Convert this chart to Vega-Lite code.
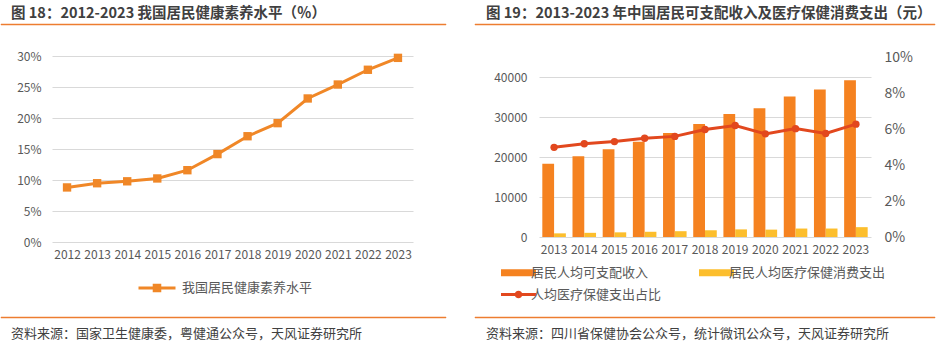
{
  "$schema": "https://vega.github.io/schema/vega-lite/v6.json",
  "padding": {"left": 0, "top": 5, "right": 0, "bottom": 0},
  "background": "white",
  "config": {
    "font": "Noto Sans CJK SC",
    "view": {"stroke": null},
    "axis": {"labelFont": "Noto Sans CJK SC", "labelColor": "#595959", "domain": false, "ticks": false, "gridColor": "#d9d9d9", "gridWidth": 1, "title": null},
    "legend": {"labelFont": "Noto Sans CJK SC"},
    "title": {"font": "Noto Sans CJK SC", "color": "#404040", "anchor": "start"}
  },
  "resolve": {"scale": {"color": "independent"}, "legend": {"color": "independent"}},
  "datasets": {
    "literacy": [
      {"year": "2012", "level": 8.80},
      {"year": "2013", "level": 9.48},
      {"year": "2014", "level": 9.79},
      {"year": "2015", "level": 10.25},
      {"year": "2016", "level": 11.58},
      {"year": "2017", "level": 14.18},
      {"year": "2018", "level": 17.06},
      {"year": "2019", "level": 19.17},
      {"year": "2020", "level": 23.15},
      {"year": "2021", "level": 25.40},
      {"year": "2022", "level": 27.78},
      {"year": "2023", "level": 29.70}
    ],
    "bars": [
      {"year": "2013", "series": "居民人均可支配收入", "value": 18311},
      {"year": "2014", "series": "居民人均可支配收入", "value": 20167},
      {"year": "2015", "series": "居民人均可支配收入", "value": 21966},
      {"year": "2016", "series": "居民人均可支配收入", "value": 23821},
      {"year": "2017", "series": "居民人均可支配收入", "value": 25974},
      {"year": "2018", "series": "居民人均可支配收入", "value": 28228},
      {"year": "2019", "series": "居民人均可支配收入", "value": 30733},
      {"year": "2020", "series": "居民人均可支配收入", "value": 32189},
      {"year": "2021", "series": "居民人均可支配收入", "value": 35128},
      {"year": "2022", "series": "居民人均可支配收入", "value": 36883},
      {"year": "2023", "series": "居民人均可支配收入", "value": 39218},
      {"year": "2013", "series": "居民人均医疗保健消费支出", "value": 912},
      {"year": "2014", "series": "居民人均医疗保健消费支出", "value": 1045},
      {"year": "2015", "series": "居民人均医疗保健消费支出", "value": 1165},
      {"year": "2016", "series": "居民人均医疗保健消费支出", "value": 1307},
      {"year": "2017", "series": "居民人均医疗保健消费支出", "value": 1451},
      {"year": "2018", "series": "居民人均医疗保健消费支出", "value": 1685},
      {"year": "2019", "series": "居民人均医疗保健消费支出", "value": 1902},
      {"year": "2020", "series": "居民人均医疗保健消费支出", "value": 1843},
      {"year": "2021", "series": "居民人均医疗保健消费支出", "value": 2115},
      {"year": "2022", "series": "居民人均医疗保健消费支出", "value": 2120},
      {"year": "2023", "series": "居民人均医疗保健消费支出", "value": 2460}
    ],
    "ratio": [
      {"year": "2013", "ratio": 0.0498},
      {"year": "2014", "ratio": 0.0518},
      {"year": "2015", "ratio": 0.0530},
      {"year": "2016", "ratio": 0.0549},
      {"year": "2017", "ratio": 0.0559},
      {"year": "2018", "ratio": 0.0597},
      {"year": "2019", "ratio": 0.0619},
      {"year": "2020", "ratio": 0.0573},
      {"year": "2021", "ratio": 0.0602},
      {"year": "2022", "ratio": 0.0575},
      {"year": "2023", "ratio": 0.0627}
    ],
    "blank": [{"k": 0}]
  },
  "spacing": 27,
  "hconcat": [
    {
      "spacing": 20,
      "resolve": {"scale": {"color": "independent"}, "legend": {"color": "independent"}},
      "vconcat": [
        {
          "width": 445, "height": 1,
          "data": {"name": "blank"},
          "mark": {"type": "text", "text": ""},
          "encoding": {},
          "view": {"fill": "#ED7D31", "stroke": "#ED7D31", "strokeWidth": 0.5},
          "title": {"text": "图 18：2012-2023 我国居民健康素养水平（％）", "dx": 10, "fontSize": 14.5, "fontWeight": "bold", "offset": -3}
        },
        {
          "spacing": 14,
          "resolve": {"scale": {"color": "independent"}, "legend": {"color": "independent"}},
          "vconcat": [
            {
              "spacing": 0,
              "resolve": {"scale": {"color": "independent"}, "legend": {"color": "independent"}},
              "hconcat": [
                {"width": 15, "height": 1, "data": {"name": "blank"}, "mark": {"type": "text", "text": ""}, "encoding": {}},
                {
                  "width": 361, "height": 186,
                  "data": {"name": "literacy"},
                  "encoding": {
                    "x": {"field": "year", "type": "ordinal", "scale": {"type": "point", "padding": 0.5}, "axis": {"labelAngle": 0, "labelFontSize": 12, "labelPadding": 7, "grid": false}},
                    "y": {"field": "level", "type": "quantitative", "scale": {"domain": [0, 30]}, "axis": {"values": [0, 5, 10, 15, 20, 25, 30], "labelExpr": "datum.value + '%'", "labelFontSize": 12, "labelPadding": 11, "grid": true}},
                    "color": {
                      "datum": "我国居民健康素养水平", "type": "nominal",
                      "scale": {"domain": ["我国居民健康素养水平"], "range": ["#F08727"]},
                      "legend": {
                        "title": null, "orient": "none", "legendX": 85, "legendY": 212,
                        "labelFontSize": 13, "labelColor": "#595959", "labelOffset": 5,
                        "symbolSize": 1369,
                        "encode": {"symbols": {"update": {
                          "shape": {"value": "M-1,0H1M-0.15,-0.15H0.15V0.15H-0.15Z"},
                          "fill": {"value": "#F08727"}, "stroke": {"value": "#F08727"},
                          "strokeWidth": {"value": 3}, "opacity": {"value": 1}
                        }}}
                      }
                    }
                  },
                  "layer": [
                    {"mark": {"type": "line", "strokeWidth": 3}},
                    {"mark": {"type": "point", "shape": "square", "filled": true, "size": 70, "opacity": 1}}
                  ]
                }
              ]
            },
            {
              "width": 445, "height": 1,
              "data": {"name": "blank"},
              "mark": {"type": "text", "text": ""},
              "encoding": {},
              "view": {"fill": "#ED7D31", "stroke": "#ED7D31", "strokeWidth": 0.5},
              "title": {"text": "资料来源：国家卫生健康委，粤健通公众号，天风证券研究所", "orient": "bottom", "dx": 10, "fontSize": 13, "fontWeight": "normal", "offset": 5}
            }
          ]
        }
      ]
    },
    {
      "spacing": 20,
      "resolve": {"scale": {"color": "independent"}, "legend": {"color": "independent"}},
      "vconcat": [
        {
          "width": 460, "height": 1,
          "data": {"name": "blank"},
          "mark": {"type": "text", "text": ""},
          "encoding": {},
          "view": {"fill": "#ED7D31", "stroke": "#ED7D31", "strokeWidth": 0.5},
          "title": {"text": "图 19：2013-2023 年中国居民可支配收入及医疗保健消费支出（元）", "dx": 11, "fontSize": 14.5, "fontWeight": "bold", "offset": -3}
        },
        {
          "spacing": 8,
          "resolve": {"scale": {"color": "independent"}, "legend": {"color": "independent"}},
          "vconcat": [
            {
              "spacing": 0,
              "resolve": {"scale": {"color": "independent"}, "legend": {"color": "independent"}},
              "hconcat": [
                {"width": 18, "height": 1, "data": {"name": "blank"}, "mark": {"type": "text", "text": ""}, "encoding": {}},
                {
                  "width": 332, "height": 180,
                  "encoding": {
                    "x": {"field": "year", "type": "ordinal", "scale": {"paddingInner": 0.22, "paddingOuter": 0.11}, "axis": {"labelAngle": 0, "labelFontSize": 12, "labelPadding": 7, "grid": false}}
                  },
                  "layer": [
                    {
                      "data": {"name": "bars"},
                      "mark": {"type": "bar"},
                      "encoding": {
                        "xOffset": {"field": "series", "type": "nominal", "sort": ["居民人均可支配收入", "居民人均医疗保健消费支出"], "scale": {"paddingInner": 0}},
                        "y": {"field": "value", "type": "quantitative", "scale": {"domain": [0, 45000]}, "axis": {"orient": "left", "values": [0, 10000, 20000, 30000, 40000], "format": "d", "grid": true, "labelFontSize": 12, "labelPadding": 12}},
                        "color": {
                          "field": "series", "type": "nominal",
                          "scale": {"domain": ["居民人均可支配收入", "居民人均医疗保健消费支出", "人均医疗保健支出占比"], "range": ["#F58220", "#FCBE2D", "#E2481E"]},
                          "legend": {
                            "title": null, "orient": "none", "direction": "horizontal", "legendX": -27, "legendY": 209, "columns": 2, "columnPadding": 37, "rowPadding": 6,
                            "labelFontSize": 13, "labelColor": "#595959", "labelOffset": 6,
                            "symbolSize": 1225,
                            "encode": {"symbols": {"update": {
                              "shape": {"signal": "datum.label === '人均医疗保健支出占比' ? 'M-1,0H1M-0.13,0A0.13,0.13 0 1,0 0.13,0A0.13,0.13 0 1,0 -0.13,0Z' : 'M-1,-0.2H1V0.2H-1Z'"},
                              "strokeWidth": {"signal": "datum.label === '人均医疗保健支出占比' ? 3 : 0"},
                              "fill": {"scale": "color", "field": "value"},
                              "stroke": {"scale": "color", "field": "value"},
                              "opacity": {"value": 1}
                            }}}
                          }
                        }
                      }
                    },
                    {
                      "data": {"name": "ratio"},
                      "encoding": {
                        "y": {"field": "ratio", "type": "quantitative", "scale": {"domain": [0, 0.1]}, "axis": {"orient": "right", "format": ".0%", "values": [0, 0.02, 0.04, 0.06, 0.08, 0.1], "grid": false, "labelFontSize": 14, "labelPadding": 13}},
                        "color": {"datum": "人均医疗保健支出占比", "type": "nominal"}
                      },
                      "layer": [
                        {"mark": {"type": "line", "strokeWidth": 3}},
                        {"mark": {"type": "point", "shape": "circle", "filled": true, "size": 55, "opacity": 1}}
                      ]
                    }
                  ],
                  "resolve": {"scale": {"y": "independent"}}
                }
              ]
            },
            {
              "width": 460, "height": 1,
              "data": {"name": "blank"},
              "mark": {"type": "text", "text": ""},
              "encoding": {},
              "view": {"fill": "#ED7D31", "stroke": "#ED7D31", "strokeWidth": 0.5},
              "title": {"text": "资料来源：四川省保健协会公众号，统计微讯公众号，天风证券研究所", "orient": "bottom", "dx": 11, "fontSize": 13, "fontWeight": "normal", "offset": 5}
            }
          ]
        }
      ]
    }
  ]
}
